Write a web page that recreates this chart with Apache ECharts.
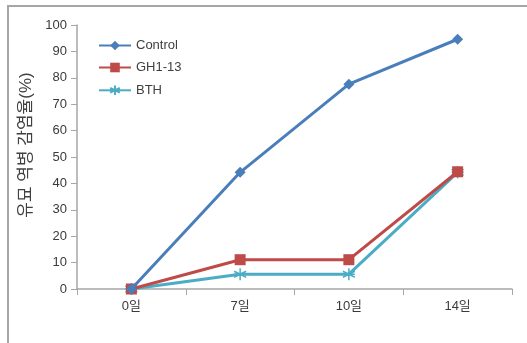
<!DOCTYPE html>
<html>
<head>
<meta charset="utf-8">
<script src="https://cdn.jsdelivr.net/npm/echarts@6/dist/echarts.min.js"></script>
<style>
  html, body { margin: 0; padding: 0; background: #fff; }
  #frame { position: absolute; left: 7px; top: 5px; width: 530px; height: 350px;
           border-left: 2px solid #a6a6a6; border-top: 2px solid #a6a6a6; }
  #main { position: absolute; left: 0; top: 0; width: 527px; height: 343px; }
</style>
</head>
<body>
<div id="frame"></div>
<div id="main"></div>
<script>
// 데이터
const days = ['0일', '7일', '10일', '14일'];
const control = [0, 44.2, 77.6, 94.6];
const gh113 = [0, 11.1, 11.1, 44.4];
const bth = [0, 5.6, 5.6, 44.2];

const font = 'Liberation Sans, DejaVu Sans, Noto Sans CJK KR, sans-serif';
const starPath = 'path://M5 0L5 10M0 2.5L10 7.5M0 7.5L10 2.5M0 5L10 5';

const chart = echarts.init(document.getElementById('main'));
chart.setOption({
    animation: false,
    grid: { left: 77, right: 15, top: 25, bottom: 54 },
    legend: {
        orient: 'vertical',
        left: 93,
        top: 34,
        itemWidth: 32,
        itemHeight: 12,
        itemGap: 9,
        textStyle: { fontFamily: font, fontSize: 13, color: '#404040' },
        data: ['Control', 'GH1-13', 'BTH']
    },
    xAxis: {
        type: 'category',
        data: days,
        boundaryGap: true,
        axisLine: { lineStyle: { color: '#a6a6a6', width: 1.5 } },
        axisTick: { show: true, length: 6, lineStyle: { color: '#a6a6a6' } },
        axisLabel: { fontFamily: font, fontSize: 13, color: '#3a3a3a', margin: 11 }
    },
    yAxis: {
        type: 'value',
        min: 0,
        max: 100,
        interval: 10,
        name: '유묘 역병 감염율(%)',
        nameLocation: 'middle',
        nameGap: 42,
        nameTextStyle: { fontFamily: font, fontSize: 17, color: '#404040', padding: [0, 0, 0, 24] },
        splitLine: { show: false },
        axisLine: { show: true, lineStyle: { color: '#a6a6a6', width: 1.5 } },
        axisTick: { show: true, length: 6, lineStyle: { color: '#a6a6a6' } },
        axisLabel: { fontFamily: font, fontSize: 13, color: '#3a3a3a', margin: 10 }
    },
    series: [
        {
            name: 'Control',
            type: 'line',
            data: control,
            symbol: 'diamond',
            symbolSize: 11,
            z: 3,
            lineStyle: { color: '#4a7ebb', width: 3 },
            itemStyle: { color: '#4a7ebb' }
        },
        {
            name: 'GH1-13',
            type: 'line',
            data: gh113,
            symbol: 'rect',
            symbolSize: 11,
            z: 2,
            lineStyle: { color: '#be4b48', width: 3 },
            itemStyle: { color: '#be4b48' }
        },
        {
            name: 'BTH',
            type: 'line',
            data: bth,
            symbol: starPath,
            symbolSize: 12,
            z: 1,
            lineStyle: { color: '#4bacc6', width: 3 },
            itemStyle: { color: 'none', borderColor: '#4bacc6', borderWidth: 1.5 }
        }
    ]
});
</script>
</body>
</html>
